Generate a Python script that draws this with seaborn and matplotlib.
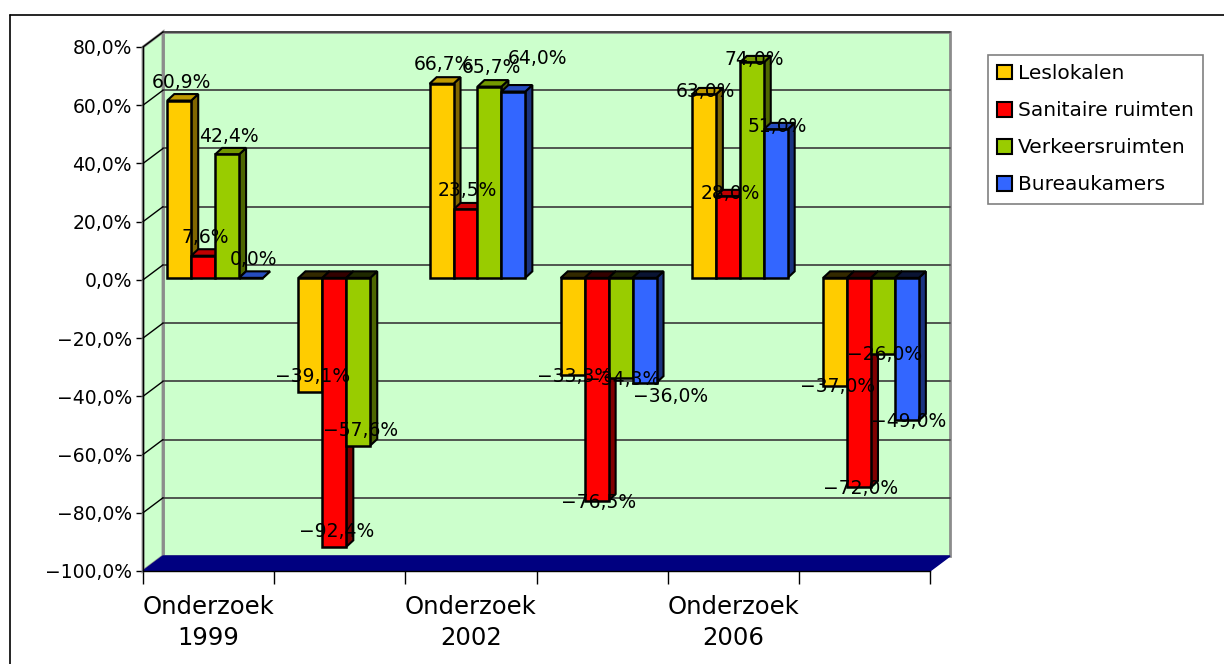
import numpy as np
import pandas as pd
import matplotlib.pyplot as plt
import seaborn as sns
from matplotlib.patches import Polygon, Patch
from matplotlib.lines import Line2D
from matplotlib.colors import to_rgb

sns.set_style('white')
plt.rcParams['font.family'] = ['DejaVu Sans']

# data: per onderzoek een positief en een negatief blok
groepen = ['1999 +', '1999 -', '2002 +', '2002 -', '2006 +', '2006 -']
groep_labels = ['Onderzoek\n1999', '', 'Onderzoek\n2002', '', 'Onderzoek\n2006', '']
ruimtes = ['Leslokalen', 'Sanitaire ruimten', 'Verkeersruimten', 'Bureaukamers']
leslokalen = [60.9, -39.1, 66.7, -33.3, 63.0, -37.0]
sanitair = [7.6, -92.4, 23.5, -76.5, 28.0, -72.0]
verkeer = [42.4, -57.6, 65.7, -34.3, 74.0, -26.0]
bureau = [0.0, np.nan, 64.0, -36.0, 51.0, -49.0]
kleuren = ['#FFCC00', '#FF0000', '#99CC00', '#3366FF']

# afstand label boven het staafeinde (pixels), per groep
label_hoogte = [20, 17, 21, 0, 5, 1]
# labels die in het origineel opzij geschoven zijn (pixels)
label_extra = {(2, 3): (22, 14), (3, 3): (24, -12)}

df = pd.DataFrame({
    'groep': groepen * 4,
    'ruimte': np.repeat(ruimtes, len(groepen)),
    'waarde': leslokalen + sanitair + verkeer + bureau,
})


def pct(v):
    return f'{v:.1f}%'.replace('.', ',').replace('-', '\u2212')


W, H = 1224, 664
fig = plt.figure(figsize=(W / 100, H / 100), dpi=100)
ax = fig.add_axes([143 / W, (H - 571) / H, 787 / W, 524 / H])
ax.set_facecolor('none')
px_x, px_y = 787 / 6, 524 / 180

# 3d-achtige wanden
xmin, xmax, ymin, ymax = -0.5, 5.5, -100, 80
dxw, dyw = 20 / px_x, 15 / px_y
wand = '#CCFFCC'
rand = '#8C8C8C'
ax.add_patch(Polygon([(xmin + dxw, ymin + dyw), (xmax + dxw, ymin + dyw),
                      (xmax + dxw, ymax + dyw), (xmin + dxw, ymax + dyw)],
                     closed=True, facecolor=wand, edgecolor=rand, lw=2,
                     zorder=0.5, clip_on=False))
ax.add_patch(Polygon([(xmin, ymin), (xmin, ymax), (xmin + dxw, ymax + dyw),
                      (xmin + dxw, ymin + dyw)],
                     closed=True, facecolor=wand, edgecolor=rand, lw=2,
                     zorder=0.6, clip_on=False))
ax.add_patch(Polygon([(xmin, ymin), (xmax, ymin), (xmax + dxw, ymin + dyw),
                      (xmin + dxw, ymin + dyw)],
                     closed=True, facecolor='#000080', edgecolor='#000080', lw=1,
                     zorder=0.7, clip_on=False))
for yv in range(-80, 81, 20):
    ax.plot([xmin + dxw, xmax + dxw], [yv + dyw, yv + dyw], color='#3a3a3a',
            lw=1.2, zorder=0.8, clip_on=False)
    ax.plot([xmin, xmin + dxw], [yv, yv + dyw], color='black', lw=1,
            zorder=0.8, clip_on=False)

sns.barplot(data=df, x='groep', y='waarde', hue='ruimte', order=groepen,
            hue_order=ruimtes, palette=kleuren, width=0.73, errorbar=None,
            saturation=1, edgecolor='black', linewidth=1.8, legend=False, ax=ax)

# diepte van de staven
dxb, dyb = 7 / px_x, 6.5 / px_y
for si, (cont, kleur) in enumerate(zip(ax.containers, kleuren)):
    rgb = np.array(to_rgb(kleur))
    for p in cont.patches:
        x0 = p.get_x() + 0.05
        p.set_x(x0)
        x1 = x0 + p.get_width()
        y_a = p.get_y()
        h = p.get_height()
        eind = y_a + h
        p.set_y(y_a + 0.7)
        y0, y1 = sorted([y_a + 0.7, y_a + 0.7 + h])
        p.set_zorder(3)
        ax.add_patch(Polygon([(x1, y0), (x1, y1), (x1 + dxb, y1 + dyb), (x1 + dxb, y0 + dyb)],
                             closed=True, facecolor=rgb * 0.5, edgecolor='black',
                             lw=1.5, zorder=2.5))
        top_kleur = rgb * 0.75 if eind >= 0 else rgb * 0.2
        ax.add_patch(Polygon([(x0, y1), (x1, y1), (x1 + dxb, y1 + dyb), (x0 + dxb, y1 + dyb)],
                             closed=True, facecolor=top_kleur, edgecolor='black',
                             lw=1.5, zorder=2.6))
        gi = int(round((x0 + x1) / 2))
        ex, ey = label_extra.get((gi, si), (0, 0))
        ax.text((x0 + x1) / 2 + (2 + ex) / px_x,
                eind + (label_hoogte[gi] + ey) / px_y, pct(eind),
                ha='center', va='center', fontsize=13.5, color='black', zorder=6)

ax.set_xlim(xmin, xmax)
ax.set_ylim(ymin, ymax)
ax.set_xlabel('')
ax.set_ylabel('')
ax.set_yticks(range(-100, 81, 20))
ax.set_yticklabels([pct(v) for v in range(-100, 81, 20)], fontsize=13.5)
ax.set_xticks([0, 2, 4])
ax.set_xticklabels([groep_labels[i] for i in (0, 2, 4)], fontsize=17.5,
                   linespacing=1.4)
ax.set_xticks(np.arange(-0.5, 6, 1), minor=True)
ax.tick_params(axis='x', which='major', length=0, pad=17, labelcolor='black')
ax.tick_params(axis='x', which='minor', length=9, width=1, color='black',
               direction='out', bottom=True)
ax.tick_params(axis='y', length=5, width=1, color='black', direction='out',
               pad=3, left=True, labelcolor='black')
for s in ['top', 'right']:
    ax.spines[s].set_visible(False)
for s in ['left', 'bottom']:
    ax.spines[s].set_color('black')
    ax.spines[s].set_linewidth(1)
    ax.spines[s].set_zorder(4)

handles = [Patch(facecolor=k, edgecolor='black', lw=1.5) for k in kleuren]
leg = fig.legend(handles, ruimtes, loc='upper left',
                 bbox_to_anchor=(988 / W, 1 - 55 / H), borderaxespad=0,
                 fontsize=14.5, frameon=True, fancybox=False, framealpha=1,
                 edgecolor='#808080', handlelength=0.75, handleheight=0.75,
                 handletextpad=0.3, labelspacing=0.9, borderpad=0.45)
leg.get_frame().set_linewidth(1.2)
for t in leg.get_texts():
    t.set_color('black')

# buitenrand
fig.add_artist(Line2D([10 / W, 1.0], [1 - 15 / H, 1 - 15 / H], color='black', lw=1.2))
fig.add_artist(Line2D([10 / W, 10 / W], [0, 1 - 15 / H], color='black', lw=1.2))

fig.savefig('out.png', dpi=100)
